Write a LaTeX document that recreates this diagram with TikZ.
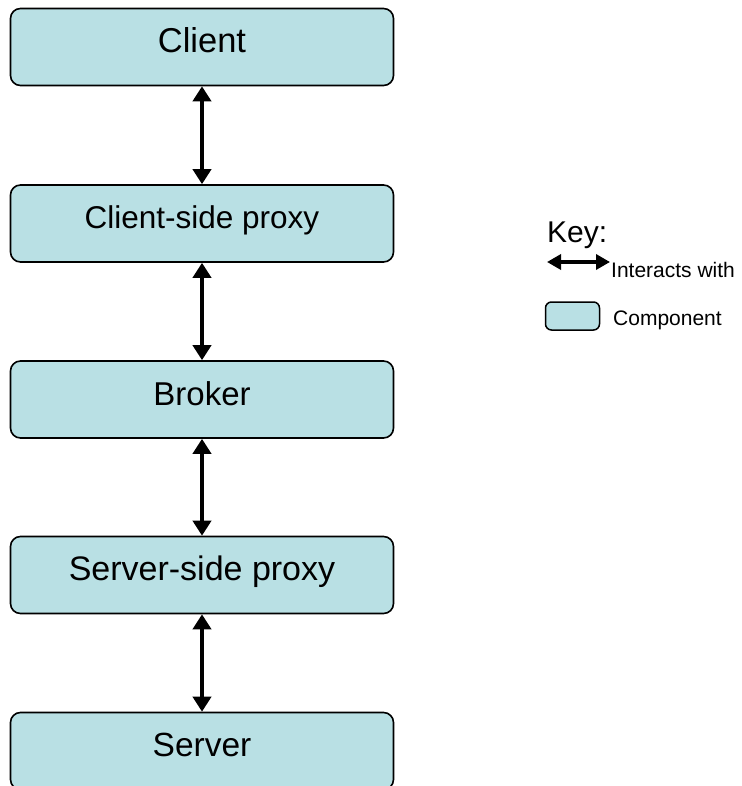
\documentclass[tikz,border=0pt]{standalone}
\usepackage{fontspec}
\setmainfont{Liberation Sans}
\usetikzlibrary{arrows.meta}
\definecolor{compfill}{RGB}{185,224,228}
\tikzset{
  comp/.style={draw=black, line width=1.6pt, fill=compfill, rounded corners=10pt,
    minimum width=383pt, minimum height=77pt, inner sep=0pt,
    text height=23pt, text depth=12pt},
  link/.style={line width=3.8pt, {Triangle[width=18pt,length=15pt]}-{Triangle[width=18pt,length=15pt]}},
  keylink/.style={line width=3.4pt, {Triangle[width=15pt,length=14pt]}-{Triangle[width=15pt,length=14pt]}},
  keybox/.style={draw=black, line width=1.5pt, fill=compfill, rounded corners=6pt,
    minimum width=54pt, minimum height=28pt, inner sep=0pt},
  keytext/.style={anchor=base west, inner sep=0pt, font=\fontsize{21}{24}\selectfont}
}
\begin{document}
\begin{tikzpicture}[x=1pt,y=-1pt]
\useasboundingbox (0,0) rectangle (741,786);
\clip (0,0) rectangle (741,786);
\node[comp, font=\fontsize{34.5}{38}\selectfont] (client) at (202,47) {Client};
\node[comp, font=\fontsize{31.5}{36}\selectfont] (cproxy) at (202,223.5) {Client-side proxy};
\node[comp, font=\fontsize{33}{38}\selectfont] (broker) at (202,399.5) {Broker};
\node[comp, font=\fontsize{34}{38}\selectfont] (sproxy) at (202,575) {Server-side proxy};
\node[comp, font=\fontsize{33.5}{38}\selectfont] (server) at (202,751) {Server};
\draw[link] (client.south) -- (cproxy.north);
\draw[link] (cproxy.south) -- (broker.north);
\draw[link] (broker.south) -- (sproxy.north);
\draw[link] (sproxy.south) -- (server.north);
\node[anchor=base west, inner sep=0pt, font=\fontsize{30}{34}\selectfont] (key) at (547,242) {Key:};
\coordinate (ka) at (547,262);
\coordinate (kb) at (610,262);
\draw[keylink] (ka) -- (kb);
\node[keytext] (interacts) at (611,277) {Interacts with};
\node[keybox] (kbox) at (572.5,316) {};
\node[keytext] (component) at (613,325) {Component};
\end{tikzpicture}
\end{document}
